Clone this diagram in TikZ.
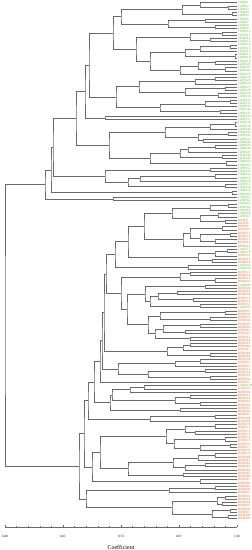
\documentclass[tikz,border=0pt]{standalone}
\usepackage{fontspec}
\setmainfont{Liberation Serif}
\usetikzlibrary{calc}
\definecolor{lgreen}{RGB}{95,185,60}
\definecolor{lorange}{RGB}{235,115,55}
\definecolor{treeline}{RGB}{105,105,105}
\tikzset{
  dline/.style={draw=treeline,line width=0.55pt},
  leaflab/.style={anchor=west,inner sep=0.6pt,font=\fontsize{3.3}{3.3}\selectfont},
  ticklab/.style={font=\fontsize{3.2}{3.2}\selectfont,inner sep=0pt},
  axislab/.style={font=\fontsize{6}{6}\selectfont,inner sep=0pt}
}
\newcommand\J[4]{\coordinate (m#1) at ($(#2)!0.5!(#3)$);\coordinate (#1) at (#4,0 |- m#1);\draw[dline] (#2) -| (#1) |- (#3);}
\begin{document}
\begin{tikzpicture}[x=1pt,y=-1pt]
\useasboundingbox (0,0) rectangle (252,550);
\foreach \i in {0,...,159}{
  \coordinate (L\i) at (237,{2.7+3.245*\i});
  \pgfmathtruncatemacro\g{(\i<67)||(\i==76)||(\i==77)||(\i==81)||(\i==82)||(\i==87)||(\i==94)||(\i==118)}
  \pgfmathtruncatemacro\nn{\i+1}
  \pgfmathtruncatemacro\no{\i-60}
  \ifnum\g=1
    \node[leaflab,text=lgreen] (t\i) at (L\i) {CsPRS\nn};
  \else
    \node[leaflab,text=lorange] (t\i) at (L\i) {BrPRS\no};
  \fi
}
% top cluster
\J{n12}{L1}{L2}{228}
\J{a1}{L0}{n12}{200}
\J{n34}{L3}{L4}{232}
\J{a2}{a1}{n34}{182}
\J{n56}{L5}{L6}{205}
\J{n78}{L7}{L8}{215}
\J{a3}{n56}{n78}{168}
\J{ga}{a2}{a3}{121}
\J{n910}{L9}{L10}{222}
\J{n1112}{L11}{L12}{210}
\J{b1}{n910}{n1112}{190}
\J{n1314}{L13}{L14}{230}
\J{b2a}{n1314}{L15}{200}
\J{n1617}{L16}{L17}{235}
\J{b2b}{b2a}{n1617}{185}
\J{n1819}{L18}{L19}{215}
\J{n2021}{L20}{L21}{225}
\J{b2c}{n1819}{n2021}{198}
\J{b2d}{b2c}{L22}{180}
\J{b2}{b2b}{b2d}{150}
\J{gb}{b1}{b2}{136}
\J{g1}{ga}{gb}{113}
\J{n2324}{L23}{L24}{215}
\J{c1a}{n2324}{L25}{195}
\J{n2627}{L26}{L27}{225}
\J{n2829}{L28}{L29}{218}
\J{c1b}{n2627}{n2829}{185}
\J{c1}{c1a}{c1b}{139}
\J{n3031}{L30}{L31}{230}
\J{c2a}{n3031}{L32}{205}
\J{n3334}{L33}{L34}{220}
\J{c2}{c2a}{n3334}{160}
\J{g2}{c1}{c2}{116}
\J{g12}{g1}{g2}{89}
\J{n3536}{L35}{L36}{105}
\J{g3}{g12}{n3536}{85}
\J{n3738}{L37}{L38}{235}
\J{d1a}{n3738}{L39}{210}
\J{n4041}{L40}{L41}{228}
\J{n4243}{L42}{L43}{203}
\J{d1b}{n4041}{n4243}{198}
\J{d1}{d1a}{d1b}{165}
\J{n4445}{L44}{L45}{215}
\J{d2a}{n4445}{L46}{188}
\J{n4748}{L47}{L48}{222}
\J{d2b}{d2a}{n4748}{180}
\J{n4950}{L49}{L50}{226}
\J{d2}{d2b}{n4950}{150}
\J{g5}{d1}{d2}{109}
\J{g4}{g3}{g5}{76}
\J{f1}{L51}{L52}{210}
\J{n5354}{L53}{L54}{215}
\J{f2a}{n5354}{L55}{140}
\J{n5657}{L56}{L57}{225}
\J{f2}{f2a}{n5657}{128}
\J{ac}{f1}{f2}{105}
\J{aa1}{g4}{ac}{53}
\J{n5859}{L58}{L59}{232}
\J{aa}{aa1}{n5859}{51}
\J{bb}{L60}{L61}{113}
\J{top}{aa}{bb}{45}
% bottom cluster
\J{n6263}{L62}{L63}{228}
\J{h1a}{n6263}{L64}{210}
\J{n6566}{L65}{L66}{218}
\J{n6768}{L67}{L68}{225}
\J{h1b}{n6566}{n6768}{200}
\J{h1}{h1a}{h1b}{172}
\J{l1}{L69}{L70}{222}
\J{l2}{L71}{L72}{230}
\J{l3}{L73}{L74}{215}
\J{l4}{l2}{l3}{200}
\J{l5}{l1}{l4}{190}
\J{h2}{l5}{L75}{183}
\J{k1}{h1}{h2}{144}
\J{n7677}{L76}{L77}{227}
\J{h4a}{n7677}{L78}{215}
\J{n7980}{L79}{L80}{212}
\J{h4}{h4a}{n7980}{198}
\J{k2}{k1}{h4}{128}
\J{n8182}{L81}{L82}{188}
\J{k3}{k2}{n8182}{115}
\J{z1a}{L83}{L84}{190}
\J{z1b}{L85}{L86}{215}
\J{z1}{z1a}{z1b}{180}
\J{w1a}{L87}{L88}{205}
\J{w1b}{L89}{L90}{177}
\J{w1c}{L91}{L92}{193}
\J{w1d}{w1b}{w1c}{158}
\J{w1e}{L93}{L94}{200}
\J{w1f}{w1d}{w1e}{150}
\J{w1}{w1a}{w1f}{145}
\J{w2a}{L95}{L96}{225}
\J{w2b}{L97}{L98}{210}
\J{w2c}{w2a}{w2b}{160}
\J{w2d}{L99}{L100}{200}
\J{w2e}{L101}{L102}{185}
\J{w2f}{w2d}{w2e}{163}
\J{w2g}{L103}{L104}{190}
\J{w2h}{w2f}{w2g}{155}
\J{w2}{w2c}{w2h}{148}
\J{z2}{w1}{w2}{127}
\J{zz}{z1}{z2}{121}
\J{y1}{k3}{zz}{106}
\J{v1}{L105}{L106}{190}
\J{v2}{v1}{L107}{183}
\J{v3}{L108}{L109}{210}
\J{vv}{v2}{v3}{167}
\J{y2}{y1}{vv}{104}
\J{t1}{L110}{L111}{200}
\J{t1b}{t1}{L112}{175}
\J{t2a}{L113}{L114}{205}
\J{t2b}{L115}{L116}{210}
\J{t2}{t2a}{t2b}{148}
\J{t3}{t1b}{t2}{118}
\J{y3}{y2}{t3}{102}
\J{y4}{y3}{L117}{100}
\J{r1}{L118}{L119}{144}
\J{r1b}{r1}{L120}{130}
\J{x2a}{L121}{L122}{190}
\J{x2b}{L123}{L124}{200}
\J{x2}{x2a}{x2b}{175}
\J{r3}{r1b}{x2}{112}
\J{r4}{L125}{L126}{180}
\J{s2}{r3}{r4}{110}
\J{n94}{y4}{s2}{94}
\J{c127}{L127}{L128}{215}
\J{c127b}{c127}{L129}{150}
\J{pone}{n94}{c127b}{88}
\J{n130}{L130}{L131}{215}
\J{n132}{L132}{L133}{195}
\J{mm1}{n130}{n132}{185}
\J{n134}{L134}{L135}{225}
\J{n136}{L136}{L137}{230}
\J{mm2a}{n136}{L138}{200}
\J{mm2}{n134}{mm2a}{174}
\J{pu}{mm1}{mm2}{166}
\J{n139}{L139}{L140}{215}
\J{q1a}{n139}{L141}{198}
\J{n142}{L142}{L143}{205}
\J{q1b}{n142}{L144}{185}
\J{q1}{q1a}{q1b}{173}
\J{q2}{L145}{L146}{183}
\J{p22}{q1}{q2}{128}
\J{p21}{pu}{p22}{100}
\J{n147}{L147}{L148}{200}
\J{p2}{p21}{n147}{92}
\J{pp}{pone}{p2}{84}
\J{n149}{L149}{L150}{215}
\J{rr}{n149}{L151}{169}
\J{n152}{L152}{L153}{225}
\J{n154}{L154}{L155}{222}
\J{su}{n152}{n154}{217}
\J{n156}{L156}{L157}{230}
\J{n158}{L158}{L159}{228}
\J{sl}{n156}{n158}{212}
\J{ss}{su}{sl}{172}
\J{qq}{rr}{ss}{86}
\J{bot}{pp}{qq}{79}
\J{root}{top}{bot}{5}
% axis
\coordinate (ax0) at (5,527);
\coordinate (ax1) at (237,527);
\draw[dline,line width=0.5pt] (ax0) -- (ax1);
\foreach \k in {0,...,20}{
  \draw[dline,line width=0.4pt] ({5+11.6*\k},527) -- ({5+11.6*\k},525.8);
}
\foreach \k/\v in {0/0.48,1/0.61,2/0.74,3/0.87,4/1.00}{
  \draw[dline,line width=0.5pt] ({5+58*\k},527) -- ({5+58*\k},524.5);
  \node[ticklab] (tk\k) at ({5+58*\k},536) {\v};
}
\node[axislab] (coef) at (121,547) {Coefficient};
\end{tikzpicture}
\end{document}
